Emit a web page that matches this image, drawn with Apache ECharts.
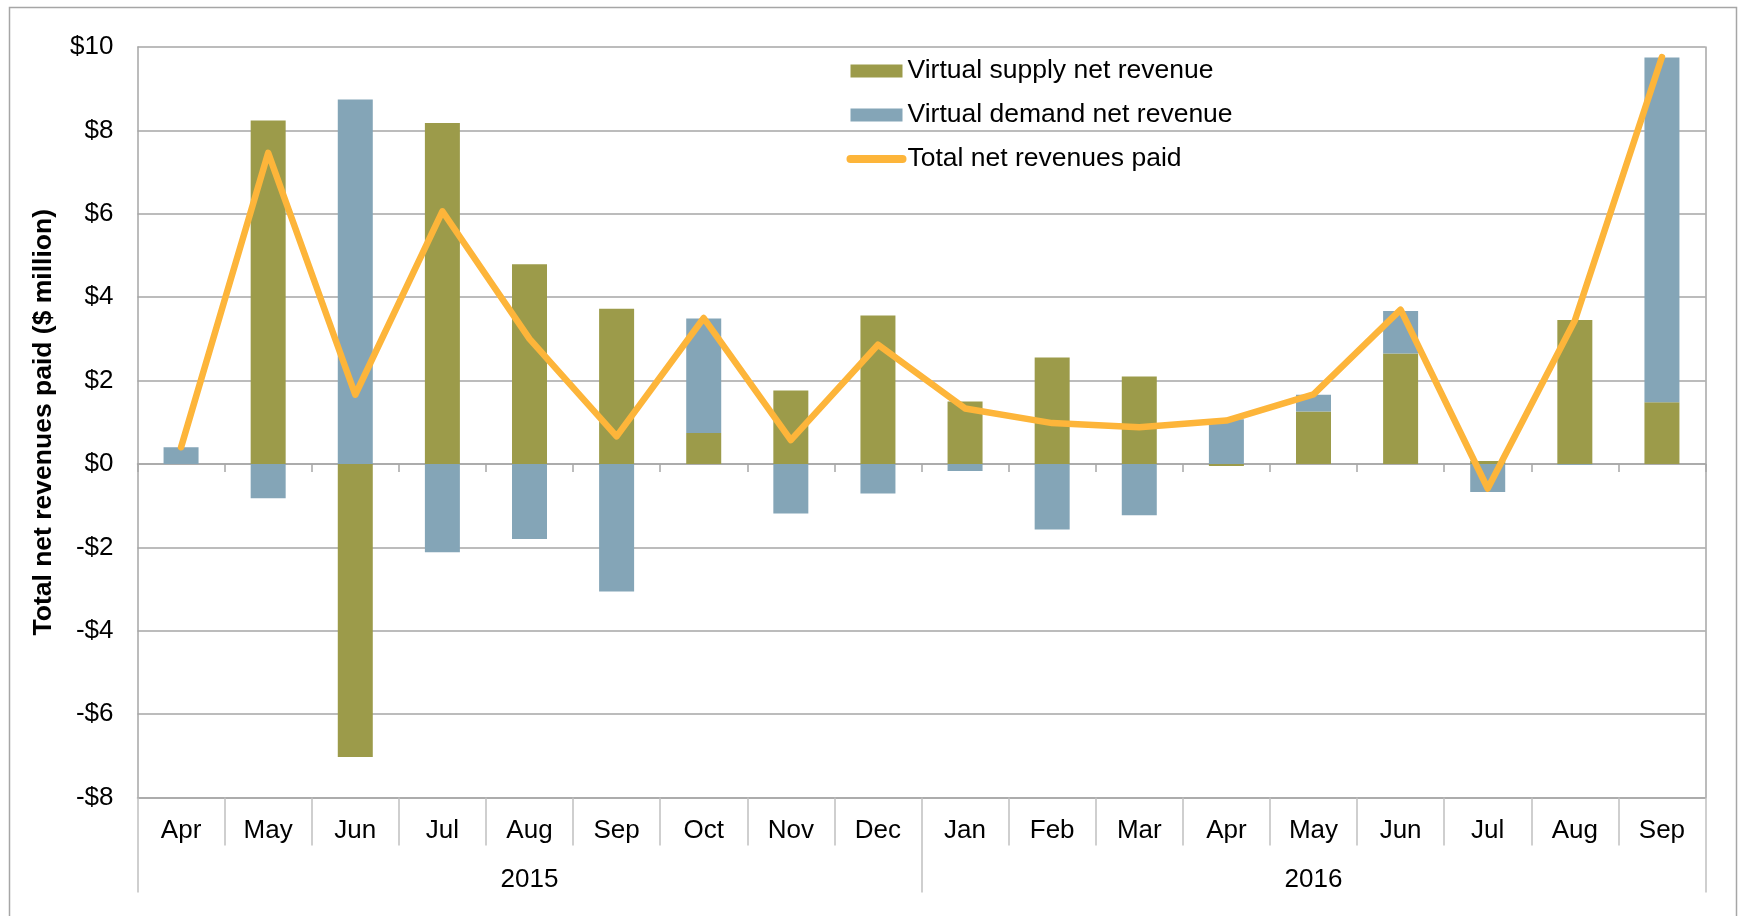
<!DOCTYPE html>
<html>
<head>
<meta charset="utf-8">
<script src="https://cdn.jsdelivr.net/npm/echarts@6/dist/echarts.min.js"></script>
<style>
  html, body { margin: 0; padding: 0; background: #fff; }
  #chart { width: 1741px; height: 916px; }
</style>
</head>
<body>
<div id="chart"></div>
<script>
const months = ['Apr', 'May', 'Jun', 'Jul', 'Aug', 'Sep', 'Oct', 'Nov', 'Dec',
  'Jan', 'Feb', 'Mar', 'Apr', 'May', 'Jun', 'Jul', 'Aug', 'Sep'];
const years = ['2015', '2016'];
const yTicks = [-8, -6, -4, -2, 0, 2, 4, 6, 8, 10];

// $ million
const supplyValues = [0, 8.24, -7.03, 8.18, 4.79, 3.72, 0.74, 1.76, 3.56,
  1.50, 2.55, 2.10, -0.05, 1.26, 2.65, 0.07, 3.45, 1.48];
const demandValues = [0.40, -0.82, 8.74, -2.12, -1.80, -3.06, 2.75, -1.19, -0.71,
  -0.17, -1.57, -1.23, 1.07, 0.40, 1.02, -0.67, -0.02, 8.27];
const totalValues = [0.40, 7.46, 1.66, 6.06, 3.00, 0.66, 3.50, 0.57, 2.86,
  1.33, 0.98, 0.88, 1.04, 1.67, 3.70, -0.59, 3.44, 9.76];

const FONT = '"Liberation Sans", Arial, sans-serif';
const GRID_GRAY = '#a6a6a6';
const TICK_GRAY = '#c0c0c0';

const chart = echarts.init(document.getElementById('chart'));

const option = {
  animation: false,
  textStyle: { fontFamily: FONT },
  grid: { left: 137.5, right: 35.5, top: 47, bottom: 118.5 },
  legend: {
    orient: 'vertical',
    left: 841.5,
    top: 52.5,
    itemWidth: 52,
    itemHeight: 13,
    itemGap: 17,
    textStyle: { fontSize: 26.5, color: '#000', fontFamily: FONT },
    lineStyle: { width: 8, cap: 'round' },
    data: [
      { name: 'Virtual supply net revenue', icon: 'rect' },
      { name: 'Virtual demand net revenue', icon: 'rect' },
      { name: 'Total net revenues paid', itemStyle: { opacity: 0, borderWidth: 0 } }
    ]
  },
  xAxis: [
    {
      // category axis sitting on the $0 line
      type: 'category',
      data: months,
      position: 'bottom',
      axisLine: { onZero: true, lineStyle: { color: GRID_GRAY, width: 1.5 } },
      axisTick: { show: true, interval: 0, length: 8, lineStyle: { color: GRID_GRAY, width: 1.5 } },
      axisLabel: { show: false }
    },
    {
      // month labels at the bottom
      type: 'category',
      data: months,
      position: 'bottom',
      axisLine: { onZero: false, lineStyle: { color: GRID_GRAY, width: 1.5 } },
      axisTick: { show: true, interval: 0, length: 48, lineStyle: { color: TICK_GRAY, width: 1.5 } },
      axisLabel: { interval: 0, margin: 20, fontSize: 26, color: '#000', fontFamily: FONT }
    },
    {
      // year grouping
      type: 'category',
      data: years,
      position: 'bottom',
      axisLine: { show: false, onZero: false },
      axisTick: { show: true, interval: 0, length: 95, lineStyle: { color: TICK_GRAY, width: 1.5 } },
      axisLabel: { interval: 0, margin: 69, fontSize: 26, color: '#000', fontFamily: FONT }
    }
  ],
  yAxis: [
    {
      type: 'value',
      min: yTicks[0],
      max: yTicks[yTicks.length - 1],
      interval: 2,
      name: 'Total net revenues paid ($ million)',
      nameLocation: 'middle',
      nameGap: 80,
      nameTextStyle: { fontSize: 26.5, fontWeight: 'bold', color: '#000', fontFamily: FONT },
      axisLine: { show: true, lineStyle: { color: GRID_GRAY, width: 1.5 } },
      axisTick: { show: false },
      splitLine: { show: true, lineStyle: { color: GRID_GRAY, width: 1.5 } },
      axisLabel: {
        margin: 24,
        fontSize: 26,
        color: '#000',
        fontFamily: FONT,
        formatter: function (v) { return v < 0 ? '-$' + Math.abs(v) : '$' + v; }
      }
    },
    {
      type: 'value',
      position: 'right',
      min: yTicks[0],
      max: yTicks[yTicks.length - 1],
      interval: 2,
      axisLine: { show: true, lineStyle: { color: GRID_GRAY, width: 1.5 } },
      axisTick: { show: false },
      axisLabel: { show: false },
      splitLine: { show: false }
    }
  ],
  series: [
    {
      name: 'Virtual supply net revenue',
      type: 'bar',
      stack: 'rev',
      xAxisIndex: 0,
      barWidth: 35,
      itemStyle: { color: '#9c9b4a' },
      data: supplyValues
    },
    {
      name: 'Virtual demand net revenue',
      type: 'bar',
      stack: 'rev',
      xAxisIndex: 0,
      barWidth: 35,
      itemStyle: { color: '#84a5b7' },
      data: demandValues
    },
    {
      name: 'Total net revenues paid',
      type: 'line',
      xAxisIndex: 0,
      symbol: 'none',
      lineStyle: { color: '#fdb53a', width: 6.5, cap: 'round', join: 'round' },
      itemStyle: { color: '#fdb53a' },
      data: totalValues
    }
  ],
  graphic: [
    {
      type: 'rect',
      shape: { x: 9.5, y: 7.5, width: 1727, height: 930 },
      style: { fill: 'none', stroke: '#a6a6a6', lineWidth: 1.5 },
      silent: true
    }
  ]
};

chart.setOption(option);
</script>
</body>
</html>
